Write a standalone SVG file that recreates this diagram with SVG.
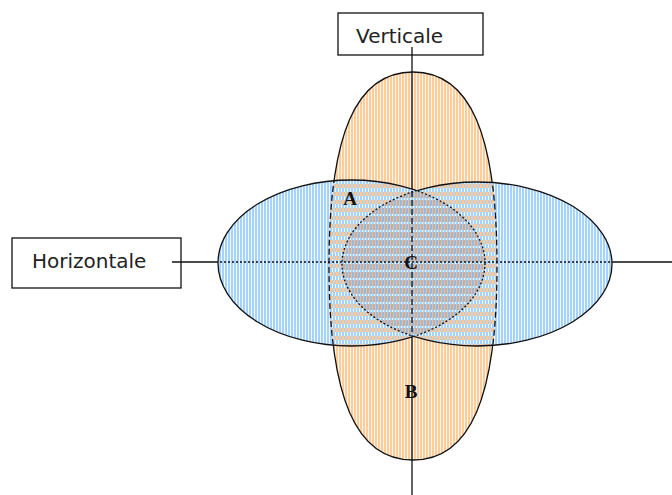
<svg xmlns="http://www.w3.org/2000/svg" xmlns:xlink="http://www.w3.org/1999/xlink" width="672" height="495" viewBox="0 0 672 495">
  <style>
    .box{fill:#fff;stroke:#111;stroke-width:1.3}
    .lbl{font-family:"DejaVu Sans",Verdana,sans-serif;font-size:20px;fill:#222}
    .pt{font-family:"Liberation Serif","Times New Roman",serif;font-weight:bold;font-size:19px;fill:#111;text-anchor:middle}
    .edge{fill:none;stroke:#111;stroke-width:1.3}
    .dash{stroke-dasharray:6 3}
    .dot{stroke-dasharray:2 2}
    .axis{stroke:#111;stroke-width:1.3;fill:none}
  </style>
  <defs>
    <!-- hatch fills -->
    <pattern id="orangePat" width="3" height="3" patternUnits="userSpaceOnUse">
      <rect width="3" height="3" fill="#fff6ee"/>
      <rect width="2" height="3" fill="#ffcc99"/>
    </pattern>
    <pattern id="bluePat" width="3" height="3" patternUnits="userSpaceOnUse">
      <rect width="3" height="3" fill="#f2f8ff"/>
      <rect width="2" height="3" fill="#a6d2ff"/>
    </pattern>
    <pattern id="mixPat" width="3" height="8" patternUnits="userSpaceOnUse">
      <rect width="3" height="8" fill="#a6d2ff"/>
      <rect width="2" height="4" fill="#ffc898"/>
      <rect y="4" x="2" width="1" height="4" fill="#f2f8ff"/>
    </pattern>
    <pattern id="lensPat" width="3" height="8" patternUnits="userSpaceOnUse">
      <rect width="3" height="8" fill="#9fb8d8"/>
      <rect width="1" height="6" fill="#f8bc88"/>
      <rect y="6" width="2" height="2" fill="#a6d2ff"/>
      <rect y="6" x="2" width="1" height="2" fill="#f2f8ff"/>
    </pattern>
    <ellipse id="eL" cx="351.5" cy="263" rx="133.5" ry="83"/>
    <ellipse id="eR" cx="477" cy="264" rx="135" ry="82"/>
    <!-- tall oval, slightly squarer than a true ellipse -->
    <path id="eV" d="M413,72 C470.1,72 497,134.1 497,266 C497,397.9 470.1,460 413,460 C355.9,460 329,397.9 329,266 C329,134.1 355.9,72 413,72 Z"/>
    <clipPath id="inBlue"><use href="#eL"/><use href="#eR"/></clipPath>
    <clipPath id="inL"><use href="#eL"/></clipPath>
    <clipPath id="inR"><use href="#eR"/></clipPath>
    <mask id="outBlue" maskUnits="userSpaceOnUse" x="0" y="0" width="672" height="495">
      <rect width="672" height="495" fill="#fff"/>
      <use href="#eL" fill="#000"/>
      <use href="#eR" fill="#000"/>
    </mask>
    <mask id="outL" maskUnits="userSpaceOnUse" x="0" y="0" width="672" height="495">
      <rect width="672" height="495" fill="#fff"/>
      <use href="#eL" fill="#000"/>
    </mask>
    <mask id="outR" maskUnits="userSpaceOnUse" x="0" y="0" width="672" height="495">
      <rect width="672" height="495" fill="#fff"/>
      <use href="#eR" fill="#000"/>
    </mask>
  </defs>

  <!-- label boxes -->
  <g id="box-verticale">
    <rect class="box" x="338" y="13" width="145" height="42"/>
    <text class="lbl" x="356" y="43">Verticale</text>
  </g>
  <g id="box-horizontale">
    <rect class="box" x="12" y="238" width="169" height="50"/>
    <text class="lbl" x="32" y="268">Horizontale</text>
  </g>

  <!-- fills -->
  <g id="ellipse-left">
    <use href="#eL" fill="url(#bluePat)"/>
  </g>
  <g id="ellipse-right">
    <use href="#eR" fill="url(#bluePat)"/>
  </g>
  <g id="ellipse-vertical">
    <use href="#eV" fill="url(#orangePat)"/>
    <use href="#eV" fill="url(#mixPat)" clip-path="url(#inBlue)"/>
  </g>
  <g id="lens-c">
    <use href="#eL" fill="url(#lensPat)" clip-path="url(#inR)"/>
  </g>

  <!-- outlines: solid where visible, dashed/dotted where hidden under another shape -->
  <g id="outlines">
    <use href="#eV" class="edge" mask="url(#outBlue)"/>
    <use href="#eV" class="edge dash" clip-path="url(#inBlue)"/>
    <use href="#eL" class="edge" mask="url(#outR)"/>
    <use href="#eL" class="edge dot" clip-path="url(#inR)"/>
    <use href="#eR" class="edge" mask="url(#outL)"/>
    <use href="#eR" class="edge dot" clip-path="url(#inL)"/>
  </g>

  <!-- axes -->
  <g id="connectors">
    <line class="axis" x1="412" y1="47" x2="412" y2="495" mask="url(#outBlue)"/>
    <line class="axis dash" x1="412" y1="47" x2="412" y2="495" clip-path="url(#inBlue)"/>
    <line class="axis" x1="172" y1="262" x2="672" y2="262" mask="url(#outBlue)"/>
    <line class="axis dot" x1="172" y1="262" x2="672" y2="262" clip-path="url(#inBlue)"/>
  </g>

  <!-- region letters -->
  <g id="label-a"><text class="pt" x="350" y="205">A</text></g>
  <g id="label-c"><text class="pt" x="411" y="269">C</text></g>
  <g id="label-b"><text class="pt" x="411" y="398">B</text></g>
</svg>
